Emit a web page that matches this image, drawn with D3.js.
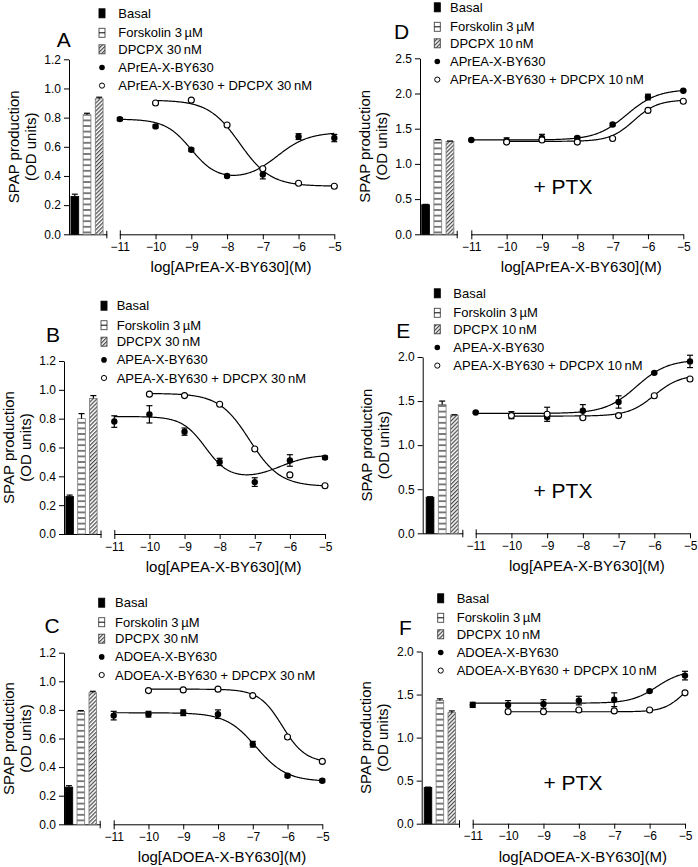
<!DOCTYPE html>
<html>
<head>
<meta charset="utf-8">
<script src="https://cdn.jsdelivr.net/npm/d3@7"></script>
<style>
  html, body { margin: 0; padding: 0; background: #fff; }
  svg { display: block; font-family: "Liberation Sans", Arial, Helvetica, sans-serif; }
</style>
</head>
<body>
<svg id="chart" width="698" height="867"></svg>
<script>
// ---------------- DATA ----------------
const xTicks = [-11, -10, -9, -8, -7, -6, -5];
const logConcFilled = [-11, -10, -9, -8, -7, -6, -5];
const logConcOpen = [-10, -9, -8, -7, -6, -5];
const barNames = ["Basal", "Forskolin", "DPCPX"];

const yTicksLow = [0, 0.2, 0.4, 0.6, 0.8, 1.0, 1.2];
const yTicksD = [0, 0.5, 1.0, 1.5, 2.0, 2.5];
const yTicksEF = [0, 0.5, 1.0, 1.5, 2.0];

// Panel A
const A_filled = [0.79, 0.74, 0.58, 0.40, 0.41, 0.67, 0.66];
const A_filledErr = [0.01, 0.01, 0.01, 0.01, 0.03, 0.02, 0.025];
const A_open = [0.90, 0.92, 0.75, 0.45, 0.35, 0.33];
const A_openErr = [0.005, 0.005, 0.005, 0.005, 0.005, 0.005];
const A_bars = [0.26, 0.82, 0.93];
const A_barsErr = [0.015, 0.01, 0.01];
// fit: [plateau1, dip, plateau2, logC1, hill1, logC2, hill2]
const A_fitFilled = [0.79, 0.37, 0.70, -9.0, 1.2, -6.6, 1.0];
const A_fitOpen = [0.92, 0.33, 0.33, -7.65, 1.0, -6.0, 1.0];

// Panel B
const B_filled = [0.78, 0.83, 0.71, 0.50, 0.36, 0.51, 0.53];
const B_filledErr = [0.04, 0.06, 0.025, 0.025, 0.03, 0.04, 0.01];
const B_open = [0.97, 0.96, 0.90, 0.59, 0.41, 0.335];
const B_openErr = [0.005, 0.005, 0.005, 0.005, 0.005, 0.005];
const B_bars = [0.26, 0.80, 0.94];
const B_barsErr = [0.01, 0.035, 0.02];
const B_fitFilled = [0.815, 0.38, 0.55, -8.4, 1.3, -6.3, 1.0];
const B_fitOpen = [0.975, 0.33, 0.33, -7.15, 1.0, -6.0, 1.0];

// Panel C
const C_filled = [0.76, 0.77, 0.78, 0.77, 0.56, 0.34, 0.305];
const C_filledErr = [0.03, 0.02, 0.02, 0.03, 0.02, 0.01, 0.01];
const C_open = [0.935, 0.94, 0.945, 0.90, 0.61, 0.44];
const C_openErr = [0.005, 0.005, 0.005, 0.005, 0.005, 0.005];
const C_bars = [0.26, 0.79, 0.92];
const C_barsErr = [0.01, 0.005, 0.01];
const C_fitFilled = [0.78, 0.30, 0.30, -6.9, 1.0, -6.0, 1.0];
const C_fitOpen = [0.945, 0.43, 0.43, -6.15, 1.3, -6.0, 1.0];

// Panel D (+PTX)
const D_filled = [1.34, 1.33, 1.37, 1.37, 1.56, 1.95, 2.04];
const D_filledErr = [0.01, 0.04, 0.05, 0.02, 0.02, 0.04, 0.01];
const D_open = [1.31, 1.34, 1.31, 1.36, 1.76, 1.89];
const D_openErr = [0.01, 0.01, 0.01, 0.01, 0.01, 0.01];
const D_bars = [0.42, 1.34, 1.32];
const D_barsErr = [0.005, 0.005, 0.005];
const D_fitFilled = [1.34, 1.34, 2.06, -9.0, 1.0, -6.6, 1.0];
const D_fitOpen = [1.32, 1.32, 1.91, -9.0, 1.0, -6.4, 1.3];

// Panel E (+PTX)
const E_filled = [1.37, 1.34, 1.32, 1.39, 1.49, 1.82, 1.95];
const E_filledErr = [0.01, 0.04, 0.02, 0.07, 0.07, 0.01, 0.07];
const E_open = [1.335, 1.35, 1.31, 1.335, 1.56, 1.75];
const E_openErr = [0.01, 0.08, 0.01, 0.01, 0.01, 0.01];
const E_bars = [0.41, 1.46, 1.34];
const E_barsErr = [0.005, 0.04, 0.005];
const E_fitFilled = [1.36, 1.36, 1.97, -9.0, 1.0, -6.5, 1.0];
const E_fitOpen = [1.33, 1.33, 1.80, -9.0, 1.0, -6.0, 1.2];

// Panel F (+PTX)
const F_filled = [1.38, 1.38, 1.39, 1.43, 1.44, 1.54, 1.72];
const F_filledErr = [0.03, 0.05, 0.05, 0.05, 0.08, 0.01, 0.05];
const F_open = [1.30, 1.30, 1.32, 1.31, 1.32, 1.52];
const F_openErr = [0.01, 0.01, 0.01, 0.01, 0.01, 0.01];
const F_bars = [0.42, 1.43, 1.29];
const F_barsErr = [0.005, 0.02, 0.02];
const F_fitFilled = [1.40, 1.40, 1.78, -9.0, 1.0, -5.8, 1.2];
const F_fitOpen = [1.30, 1.30, 1.75, -9.0, 1.0, -5.0, 1.5];

const legendA = ["Basal", "Forskolin 3\u2009\u00b5M", "DPCPX 30\u2009nM", "APrEA-X-BY630", "APrEA-X-BY630 + DPCPX 30\u2009nM"];
const legendB = ["Basal", "Forskolin 3\u2009\u00b5M", "DPCPX 30\u2009nM", "APEA-X-BY630", "APEA-X-BY630 + DPCPX 30\u2009nM"];
const legendC = ["Basal", "Forskolin 3\u2009\u00b5M", "DPCPX 30\u2009nM", "ADOEA-X-BY630", "ADOEA-X-BY630 + DPCPX 30\u2009nM"];
const legendD = ["Basal", "Forskolin 3\u2009\u00b5M", "DPCPX 10\u2009nM", "APrEA-X-BY630", "APrEA-X-BY630 + DPCPX 10\u2009nM"];
const legendE = ["Basal", "Forskolin 3\u2009\u00b5M", "DPCPX 10\u2009nM", "APEA-X-BY630", "APEA-X-BY630 + DPCPX 10\u2009nM"];
const legendF = ["Basal", "Forskolin 3\u2009\u00b5M", "DPCPX 10\u2009nM", "ADOEA-X-BY630", "ADOEA-X-BY630 + DPCPX 10\u2009nM"];

const xTitles = ["log[APrEA-X-BY630](M)", "log[APEA-X-BY630](M)", "log[ADOEA-X-BY630](M)"];
const yTitle = ["SPAP production", "(OD units)"];
const panelLetters = ["A", "B", "C", "D", "E", "F"];
const ptxLabel = "+ PTX";

// ---------------- LAYOUT ----------------
const panels = [
  { letter: panelLetters[0], filled: A_filled, filledErr: A_filledErr, open: A_open, openErr: A_openErr, bars: A_bars, barsErr: A_barsErr, fitF: A_fitFilled, fitO: A_fitOpen, yTicks: yTicksLow, legend: legendA, xTitle: xTitles[0],
    L: { axisX: 69, yTop: 59.3, yZero: 234.3, barL: 68.5, barR: 105.5, barAxisEnd: 107.3, cx0: 119.8, cx1: 334.3, letterX: 63.7, letterY: 46.7, symX: 102, textX: 118.3, legY: 13.3, ptx: null } },
  { letter: panelLetters[1], filled: B_filled, filledErr: B_filledErr, open: B_open, openErr: B_openErr, bars: B_bars, barsErr: B_barsErr, fitF: B_fitFilled, fitO: B_fitOpen, yTicks: yTicksLow, legend: legendB, xTitle: xTitles[1],
    L: { axisX: 64, yTop: 361, yZero: 534, barL: 63.5, barR: 99.5, barAxisEnd: 101.5, cx0: 114.3, cx1: 325, letterX: 53, letterY: 341.7, symX: 104, textX: 116.7, legY: 305.7, ptx: null } },
  { letter: panelLetters[2], filled: C_filled, filledErr: C_filledErr, open: C_open, openErr: C_openErr, bars: C_bars, barsErr: C_barsErr, fitF: C_fitFilled, fitO: C_fitOpen, yTicks: yTicksLow, legend: legendC, xTitle: xTitles[2],
    L: { axisX: 64, yTop: 652.7, yZero: 824.3, barL: 62.7, barR: 99, barAxisEnd: 100.7, cx0: 113.7, cx1: 322.3, letterX: 52.2, letterY: 633.3, symX: 101.7, textX: 115, legY: 602.7, ptx: null } },
  { letter: panelLetters[3], filled: D_filled, filledErr: D_filledErr, open: D_open, openErr: D_openErr, bars: D_bars, barsErr: D_barsErr, fitF: D_fitFilled, fitO: D_fitOpen, yTicks: yTicksD, legend: legendD, xTitle: xTitles[0],
    L: { axisX: 420, yTop: 58.3, yZero: 234.3, barL: 419.3, barR: 456.3, barAxisEnd: 457.7, cx0: 471.3, cx1: 683.3, letterX: 401.7, letterY: 39.3, symX: 437.3, textX: 450, legY: 7.3, ptx: [563, 186.7] } },
  { letter: panelLetters[4], filled: E_filled, filledErr: E_filledErr, open: E_open, openErr: E_openErr, bars: E_bars, barsErr: E_barsErr, fitF: E_fitFilled, fitO: E_fitOpen, yTicks: yTicksEF, legend: legendE, xTitle: xTitles[1],
    L: { axisX: 422.7, yTop: 357, yZero: 533.3, barL: 423.7, barR: 460.7, barAxisEnd: 463.3, cx0: 475.7, cx1: 690, letterX: 403.3, letterY: 338.3, symX: 437.3, textX: 453.3, legY: 293.3, ptx: [563, 490.7] } },
  { letter: panelLetters[5], filled: F_filled, filledErr: F_filledErr, open: F_open, openErr: F_openErr, bars: F_bars, barsErr: F_barsErr, fitF: F_fitFilled, fitO: F_fitOpen, yTicks: yTicksEF, legend: legendF, xTitle: xTitles[2],
    L: { axisX: 421.7, yTop: 651.5, yZero: 823.7, barL: 421.8, barR: 458, barAxisEnd: 460, cx0: 472.7, cx1: 685, letterX: 405.5, letterY: 635, symX: 440.7, textX: 456.7, legY: 598.3, ptx: [573, 783] } }
];
const legendOffsets = [0, 19.5, 36, 54.2, 72.3];

// ---------------- DRAW ----------------
const svg = d3.select("#chart");
const defs = svg.append("defs");
// horizontal-line pattern (Forskolin)
const ph = defs.append("pattern").attr("id", "hlines").attr("patternUnits", "userSpaceOnUse")
  .attr("width", 10).attr("height", 5.6);
ph.append("rect").attr("width", 10).attr("height", 5.6).attr("fill", "#fff");
ph.append("line").attr("x1", 0).attr("x2", 10).attr("y1", 2.8).attr("y2", 2.8).attr("stroke", "#000").attr("stroke-width", 1);
// diagonal hatch (DPCPX)
const pd = defs.append("pattern").attr("id", "hatch").attr("patternUnits", "userSpaceOnUse")
  .attr("width", 2.8).attr("height", 2.8).attr("patternTransform", "rotate(45)");
pd.append("rect").attr("width", 2.8).attr("height", 2.8).attr("fill", "#fff");
pd.append("line").attr("x1", 0.7).attr("x2", 0.7).attr("y1", 0).attr("y2", 2.8).attr("stroke", "#000").attr("stroke-width", 0.9);
// legend forskolin symbol pattern
const fills = ["#000", "url(#hlines)", "url(#hatch)"];

function model(p, x) {
  const [p1, dip, p2, c1, h1, c2, h2] = p;
  return dip + (p1 - dip) / (1 + Math.pow(10, (x - c1) * h1)) + (p2 - dip) / (1 + Math.pow(10, (c2 - x) * h2));
}
const fmtX = d => d < 0 ? "\u2212" + Math.abs(d) : String(d);

panels.forEach(P => {
  const L = P.L;
  const g = svg.append("g");
  const yMax = P.yTicks[P.yTicks.length - 1];
  const y = d3.scaleLinear().domain([0, yMax]).range([L.yZero, L.yTop]);
  const x = d3.scaleLinear().domain([-11, -5]).range([L.cx0, L.cx1]);
  const xb = d3.scaleBand().domain(barNames).range([L.barL, L.barR]).paddingInner(0.36).paddingOuter(0.2);

  // Y axis
  const ya = g.append("g").attr("transform", `translate(${L.axisX},0)`)
    .call(d3.axisLeft(y).tickValues(P.yTicks).tickSize(5).tickSizeOuter(0).tickFormat(d3.format(".1f")));
  ya.selectAll("text").attr("font-size", 12).attr("fill", "#000").attr("font-family", null);
  ya.selectAll("line,path").attr("stroke", "#000");
  ya.attr("font-family", null);

  // bar baseline
  g.append("line").attr("x1", L.axisX).attr("x2", L.barAxisEnd).attr("y1", L.yZero + 0.5).attr("y2", L.yZero + 0.5).attr("stroke", "#000");
  g.append("line").attr("x1", L.barAxisEnd - 0.5).attr("x2", L.barAxisEnd - 0.5).attr("y1", L.yZero - 3.5).attr("y2", L.yZero + 4).attr("stroke", "#000");

  // bars
  const barG = g.append("g");
  barG.selectAll("rect").data(P.bars).join("rect")
    .attr("x", (d, i) => xb(barNames[i]))
    .attr("width", xb.bandwidth())
    .attr("y", d => y(d))
    .attr("height", d => L.yZero - y(d))
    .attr("fill", (d, i) => fills[i])
    .attr("stroke", (d, i) => i === 0 ? "#000" : "#777")
    .attr("stroke-width", 0.8);
  // bar error bars
  P.bars.forEach((v, i) => {
    const cx = xb(barNames[i]) + xb.bandwidth() / 2;
    const e = P.barsErr[i];
    barG.append("line").attr("x1", cx).attr("x2", cx).attr("y1", y(v)).attr("y2", y(v + e)).attr("stroke", "#000").attr("stroke-width", 1.2);
    barG.append("line").attr("x1", cx - 3).attr("x2", cx + 3).attr("y1", y(v + e)).attr("y2", y(v + e)).attr("stroke", "#000").attr("stroke-width", 1.2);
  });

  // X axis
  const xa = g.append("g").attr("transform", `translate(0,${L.yZero})`)
    .call(d3.axisBottom(x).tickValues(xTicks).tickSize(5).tickSizeOuter(0).tickFormat(fmtX));
  xa.selectAll("text").attr("font-size", 12).attr("fill", "#000");
  xa.selectAll("line,path").attr("stroke", "#000");
  xa.attr("font-family", null);
  g.append("line").attr("x1", x(-11) + 0.5).attr("x2", x(-11) + 0.5).attr("y1", L.yZero - 4).attr("y2", L.yZero + 1).attr("stroke", "#000");

  // titles
  g.append("text").attr("x", (L.cx0 + L.cx1) / 2 + 4).attr("y", L.yZero + 38)
    .attr("text-anchor", "middle").attr("font-size", 15).text(P.xTitle);
  const ymid = (L.yTop + L.yZero) / 2;
  yTitle.forEach((t, i) => {
    g.append("text").attr("transform", `translate(${L.axisX - 55.5 + i * 17},${ymid}) rotate(-90)`)
      .attr("text-anchor", "middle").attr("dy", "0.35em").attr("font-size", 15).text(t);
  });
  g.append("text").attr("x", L.letterX).attr("y", L.letterY).attr("text-anchor", "middle")
    .attr("font-size", 21).text(P.letter);
  if (L.ptx) {
    g.append("text").attr("x", L.ptx[0]).attr("y", L.ptx[1]).attr("dy", "0.35em").attr("text-anchor", "middle")
      .attr("font-size", 21).text(ptxLabel);
  }

  // fitted curves
  const line = d3.line().x(d => x(d[0])).y(d => y(d[1]));
  const samp = (fit, x0) => d3.range(x0, -5 + 1e-9, 0.02).map(v => [v, model(fit, v)]);
  g.append("path").attr("d", line(samp(P.fitF, -11))).attr("fill", "none").attr("stroke", "#000").attr("stroke-width", 1.2);
  g.append("path").attr("d", line(samp(P.fitO, -10))).attr("fill", "none").attr("stroke", "#000").attr("stroke-width", 1.2);

  // error bars on points
  const errG = g.append("g").attr("stroke", "#000").attr("stroke-width", 1.2);
  const drawErr = (xs, vals, errs) => vals.forEach((v, i) => {
    const px = x(xs[i]);
    const y1 = y(v + errs[i]), y2 = y(v - errs[i]);
    errG.append("line").attr("x1", px).attr("x2", px).attr("y1", y1).attr("y2", y2);
    errG.append("line").attr("x1", px - 3).attr("x2", px + 3).attr("y1", y1).attr("y2", y1);
    errG.append("line").attr("x1", px - 3).attr("x2", px + 3).attr("y1", y2).attr("y2", y2);
  });
  drawErr(logConcFilled, P.filled, P.filledErr);
  drawErr(logConcOpen, P.open, P.openErr);

  // points
  g.append("g").selectAll("circle").data(P.filled).join("circle")
    .attr("cx", (d, i) => x(logConcFilled[i])).attr("cy", d => y(d)).attr("r", 3.2).attr("fill", "#000");
  g.append("g").selectAll("circle").data(P.open).join("circle")
    .attr("cx", (d, i) => x(logConcOpen[i])).attr("cy", d => y(d)).attr("r", 3).attr("fill", "#fff")
    .attr("stroke", "#000").attr("stroke-width", 1.1);

  // legend
  const lg = g.append("g");
  P.legend.forEach((t, i) => {
    const ly = L.legY + legendOffsets[i];
    if (i < 3) {
      lg.append("rect").attr("x", L.symX - 3).attr("y", ly - 4.5).attr("width", 6).attr("height", 9)
        .attr("fill", i === 0 ? "#000" : (i === 2 ? "url(#hatch)" : "#fff"))
        .attr("stroke", i === 0 ? "#000" : "#444").attr("stroke-width", 0.9);
      if (i === 1) lg.append("line").attr("x1", L.symX - 3).attr("x2", L.symX + 3).attr("y1", ly).attr("y2", ly).attr("stroke", "#000");
    } else if (i === 3) {
      lg.append("circle").attr("cx", L.symX).attr("cy", ly).attr("r", 2.8).attr("fill", "#000");
    } else {
      lg.append("circle").attr("cx", L.symX).attr("cy", ly).attr("r", 2.6).attr("fill", "#fff").attr("stroke", "#000").attr("stroke-width", 1);
    }
    lg.append("text").attr("x", L.textX).attr("y", ly).attr("dy", "0.35em").attr("font-size", 13).text(t);
  });
});
</script>
</body>
</html>
